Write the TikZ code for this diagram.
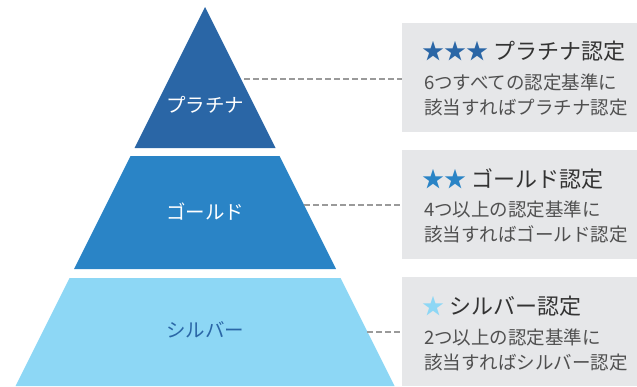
\documentclass[tikz,border=0pt]{standalone}
\usepackage{fontspec}
\setmainfont{Noto Sans CJK JP}
\usetikzlibrary{positioning}
\definecolor{platblue}{HTML}{2A66A6}
\definecolor{goldblue}{HTML}{2A84C6}
\definecolor{silverblue}{HTML}{8DD7F5}
\definecolor{boxgray}{HTML}{E6E7E9}
\definecolor{titlegray}{HTML}{333333}
\definecolor{bodygray}{HTML}{505050}
\definecolor{leadgray}{HTML}{9A9A9A}

\begin{document}
\begin{tikzpicture}[x=1pt,y=-1pt,
  tierlabel/.style={font=\fontsize{19.5}{19.5}\selectfont, inner sep=0pt},
  infobox/.style={fill=boxgray, minimum width=235pt, anchor=north west, inner sep=0pt},
  titletext/.style={anchor=west, text=titlegray, font=\fontsize{22}{22}\selectfont, inner sep=0pt},
  bodytext/.style={anchor=base west, text=bodygray, font=\fontsize{18.5}{25}\selectfont, align=left, inner sep=0pt},
  leader/.style={draw=leadgray, line width=1.2pt, dash pattern=on 6pt off 3pt}]
  \useasboundingbox (0,0) rectangle (637,386);

  % pyramid tiers
  \fill[platblue] (205,7) -- (275.5,148) -- (134.5,148) -- cycle;
  \fill[goldblue] (130.5,156) -- (279.5,156) -- (336,269) -- (74,269) -- cycle;
  \fill[silverblue] (69.5,278) -- (340.5,278) -- (394.5,386) -- (15.5,386) -- cycle;

  \node[tierlabel, text=white] (platlabel) at (205,105) {プラチナ};
  \node[tierlabel, text=white] (goldlabel) at (205,212) {ゴールド};
  \node[tierlabel, text=platblue] (silverlabel) at (205,330) {シルバー};

  % info boxes
  \node[infobox, minimum height=109pt] (platbox) at (402,23) {};
  \node[infobox, minimum height=109pt] (goldbox) at (402,150) {};
  \node[infobox, minimum height=109pt] (silverbox) at (402,277) {};

  \node[titletext] (plattitle) at ([shift={(20,28)}]platbox.north west)
    {\textcolor{platblue}{★★★} プラチナ認定};
  \node[bodytext] (platbody) at ([shift={(22,91)}]platbox.north west)
    {6つすべての認定基準に\\該当すればプラチナ認定};

  \node[titletext] (goldtitle) at ([shift={(20,29)}]goldbox.north west)
    {\textcolor{goldblue}{★★} ゴールド認定};
  \node[bodytext] (goldbody) at ([shift={(22,91)}]goldbox.north west)
    {4つ以上の認定基準に\\該当すればゴールド認定};

  \node[titletext] (silvertitle) at ([shift={(20,29)}]silverbox.north west)
    {\textcolor{silverblue}{★} シルバー認定};
  \node[bodytext] (silverbody) at ([shift={(22,92)}]silverbox.north west)
    {2つ以上の認定基準に\\該当すればシルバー認定};

  % dashed leaders
  \coordinate (platedge) at (244,79);
  \coordinate (goldedge) at (304,205);
  \coordinate (silveredge) at (367,332);
  \draw[leader] (platedge) -- (platedge -| platbox.west);
  \draw[leader] (goldedge) -- (goldedge -| goldbox.west);
  \draw[leader] (silveredge) -- (silveredge -| silverbox.west);
\end{tikzpicture}
\end{document}
